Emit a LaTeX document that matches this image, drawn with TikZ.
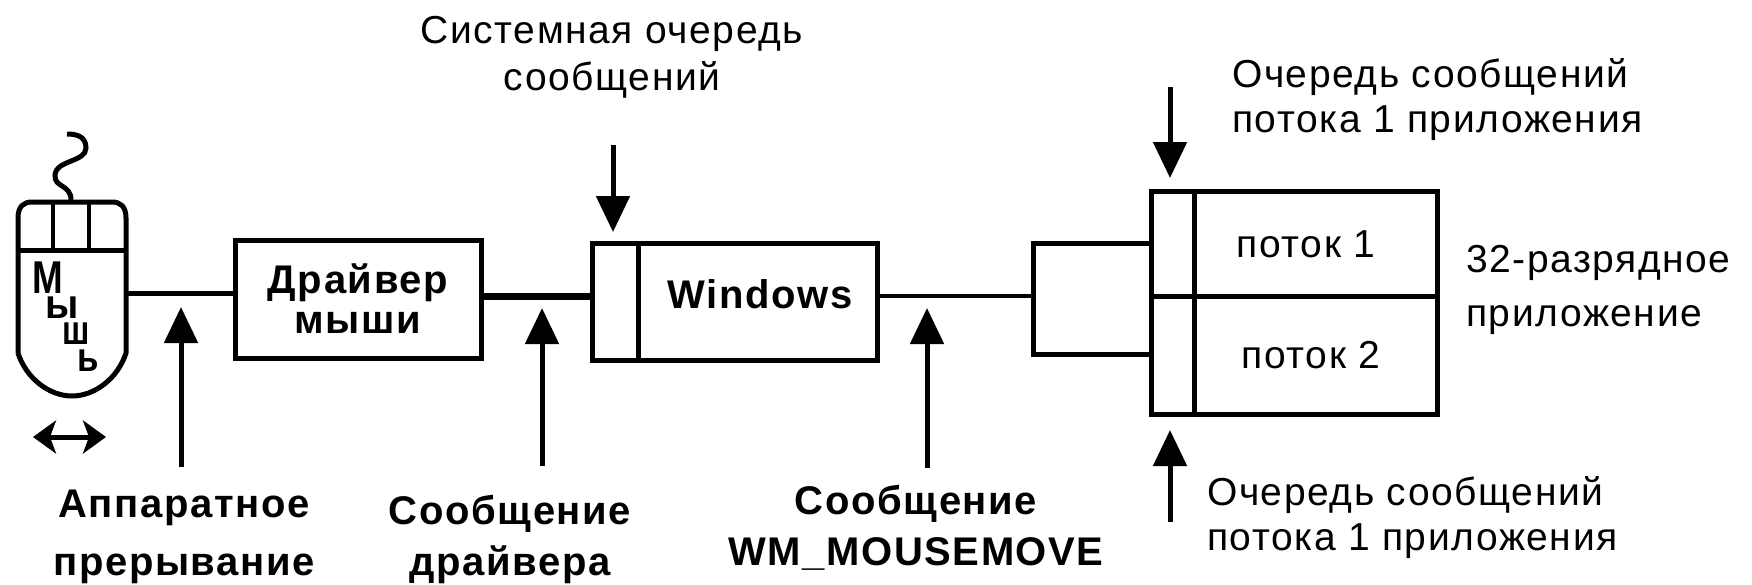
\documentclass[tikz,border=0pt]{standalone}
\usepackage{fontspec}
\setmainfont{Liberation Sans}[LetterSpace=4]
\newcommand{\boldlab}{\bfseries}
\usetikzlibrary{arrows.meta}
\tikzset{
  ln/.style={line width=5pt,black},
  boxn/.style={draw,line width=5pt,rectangle,inner sep=0pt,fill=white},
  upar/.style={line width=5pt,-{Triangle[length=36pt,width=33pt]}},
  plain/.style={font=\fontsize{39}{45}\selectfont,inner sep=0pt,align=center},
  bold/.style={font=\boldlab\fontsize{40}{51}\selectfont,inner sep=0pt,align=center},
  ltr/.style={font=\boldlab\fontsize{#1}{#1}\selectfont,inner sep=0pt},
  tightcap/.style={text height=33pt,text depth=0pt},
  tightlow/.style={text height=21pt,text depth=0pt}
}
\begin{document}
\begin{tikzpicture}[x=1pt,y=-1pt]
\useasboundingbox (0,0) rectangle (1752,584);
% mouse
\draw[line width=5pt,line join=round] (18,353) -- (18,218) .. controls (18,206) and (24,202) .. (32,202) -- (112,202) .. controls (120,202) and (126,206) .. (126,218) -- (126,353) .. controls (118,378) and (95,396) .. (72,396) .. controls (49,396) and (26,378) .. (18,353);
\draw[line width=5pt] (18,250) -- (126,250);
\draw[line width=4pt] (53,202) -- (53,250) (89,202) -- (89,250);
\draw[line width=5pt] (71,200) .. controls (71,184) and (54,188) .. (55,175) .. controls (56,160) and (86,162) .. (86,148) .. controls (86,136) and (76,134) .. (67,134);
\coordinate (mouseR) at (126,293);
\node[ltr=46,tightcap,xscale=.8] (lm) at (48,276.5) {М};
\node[ltr=41,tightlow,xscale=.95] (ly) at (62,307.5) {ы};
\node[ltr=41,tightlow,xscale=.8] (lsh) at (76,334) {ш};
\node[ltr=41,tightlow,xscale=.85] (lsoft) at (88.5,361) {ь};
\coordinate (dl) at (33,437); \coordinate (dr) at (106,437);
\draw[line width=5pt,{Stealth[length=23pt,width=33pt,inset=6pt]}-{Stealth[length=23pt,width=33pt,inset=6pt]}] (dl) -- (dr);
% boxes
\node[boxn,minimum width=246pt,minimum height=118pt] (drv) at (358,299) {};
\node[bold] (drvt) at (358,299) {Драйвер\\[-11pt]мыши};
\node[boxn,minimum width=285pt,minimum height=117pt] (win) at (734.5,302) {};
\coordinate (winT) at (638,243.5); \coordinate (winB) at (638,360.5);
\draw[line width=5pt] (winT) -- (winB);
\node[ltr=40] (wint) at (760,294) {Windows};
\node[boxn,minimum width=286pt,minimum height=223pt] (app) at (1294,302.5) {};
\coordinate (appT) at (1194,191); \coordinate (appB) at (1194,414);
\draw[line width=5pt] (appT) -- (appB);
\coordinate (appL) at (1151,296); \coordinate (appR) at (1437,296);
\draw[line width=5pt] (appL) -- (appR);
\node[plain] (t1) at (1306,244) {поток 1};
\node[plain] (t2) at (1311,355) {поток 2};
\node[plain,align=left,anchor=west,font=\fontsize{39}{54}\selectfont] (app32) at (1466,290) {32-разрядное\\приложение};
% connectors
\coordinate (brT) at (1151,243); \coordinate (brB) at (1151,354);
\coordinate (brTL) at (1033,243); \coordinate (brBL) at (1033,354); \coordinate (brM) at (1033,296);
\draw[line width=5pt] (brT) -- (brTL) -- (brBL) -- (brB);
\coordinate (lev) at (0,296);
\draw[ln] (mouseR) -- (drv.west |- mouseR);
\draw[line width=7pt] (drv.east |- lev) -- (win.west |- lev);
\draw[line width=4pt] (win.east |- brM) -- (brM);
% arrows
\coordinate (a1) at (181,467); \coordinate (a1t) at (181,307);
\coordinate (a2) at (542,466); \coordinate (a2t) at (542,308);
\coordinate (a3) at (927,468); \coordinate (a3t) at (927,308);
\coordinate (a4) at (613,145); \coordinate (a4t) at (613,232);
\coordinate (a5) at (1170,87); \coordinate (a5t) at (1170,178);
\coordinate (a6) at (1170,522); \coordinate (a6t) at (1170,430);
\draw[upar] (a1) -- (a1t);
\draw[upar] (a2) -- (a2t);
\draw[upar] (a3) -- (a3t);
\draw[upar] (a4) -- (a4t);
\draw[upar] (a5) -- (a5t);
\draw[upar] (a6) -- (a6t);
% labels
\node[plain,font=\fontsize{39}{47}\selectfont] (sq) at (612,57) {Системная очередь\\сообщений};
\node[plain,align=left,anchor=west] (q1) at (1232,100) {Очередь сообщений\\потока 1 приложения};
\node[plain,align=left,anchor=west] (q2) at (1207,518) {Очередь сообщений\\потока 1 приложения};
\node[bold,font=\boldlab\fontsize{40}{58}\selectfont] (hw) at (184,537) {Аппаратное\\прерывание};
\node[bold] (dm) at (510,539) {Сообщение\\драйвера};
\node[bold] (wm) at (916,528) {Сообщение\\WM\_MOUSEMOVE};
\end{tikzpicture}
\end{document}
